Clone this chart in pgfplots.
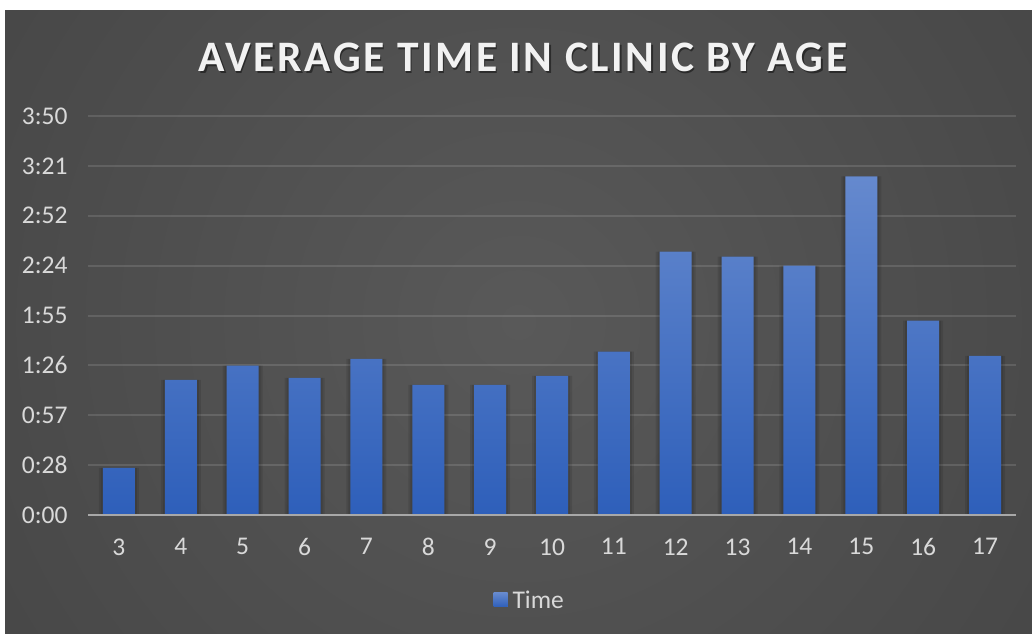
\documentclass[border=0pt]{standalone}
\usepackage{pgfplots}
\pgfplotsset{compat=1.18}
\usepackage{fontspec}
\setmainfont{Carlito}
\definecolor{bartop}{HTML}{6589CE}
\definecolor{barbot}{HTML}{2E5FBA}
\definecolor{barmid}{HTML}{3F6EC6}
\definecolor{labelc}{HTML}{D9D9D9}
\definecolor{axisc}{HTML}{A8A8A8}
\definecolor{titlec}{HTML}{F2F2F2}
\definecolor{bgc}{HTML}{595959}
\definecolor{bge1}{HTML}{474747}
\definecolor{bge2}{HTML}{2E2E2E}
\definecolor{bge3}{HTML}{262626}
\pgfdeclareradialshading{bgshade}{\pgfpoint{0bp}{0bp}}{color(0bp)=(bgc); color(26bp)=(bge1); color(43bp)=(bge2); color(50bp)=(bge3)}
\pgfplotstableread{
age time
3 27.2
4 78.1
5 86.2
6 79.2
7 90.2
8 75.2
9 75.2
10 80.4
11 94.3
12 152.1
13 149.2
14 144.0
15 195.5
16 112.2
17 91.9
}\datatable
\begin{document}
\begin{tikzpicture}
\fill[white] (0pt,0pt) rectangle (1032pt,633pt);
\begin{scope}
\clip (5pt,0pt) rectangle (1032pt,622pt);
\shade[shading=bgshade] (-81.5pt,-289pt) rectangle (1118.5pt,911pt);
\end{scope}
\begin{axis}[at={(88pt,118pt)}, anchor=south west, scale only axis,
  width=928pt, height=399pt,
  xmin=2.5, xmax=17.5, ymin=0, ymax=230.4,
  ybar, bar width=32pt,
  xtick={3,4,5,6,7,8,9,10,11,12,13,14,15,16,17},
  xticklabels={3,4,5,6,7,8,9,10,11,12,13,14,15,16,17},
  ytick={0,28.8,57.6,86.4,115.2,144,172.8,201.6,230.4},
  yticklabels={0:00,0:28,0:57,1:26,1:55,2:24,2:52,3:21,3:50},
  ymajorgrids, grid style={white, opacity=0.12, line width=2pt},
  axis line style={draw=none}, major tick length=0pt,
  tick label style={font=\fontsize{25.5}{30}\selectfont, text=labelc},
  yticklabel style={xshift=-17pt},
  xticklabel style={yshift=-20pt},
  legend style={at={(0.476,-0.213)}, anchor=center, draw=none, fill=none,
    font=\fontsize{25.5}{30}\selectfont, text=labelc},
  legend image code/.code={\fill[barmid] (0pt,-7pt) rectangle (14pt,7pt);},
  clip=false]
\addplot[draw=none, fill=black, opacity=0.10, bar width=40pt, bar shift=0pt, forget plot] table[x=age,y=time] {\datatable};
\addplot[draw=none, fill=black, opacity=0.10, bar width=36pt, bar shift=0pt, forget plot] table[x=age,y=time] {\datatable};
\addplot[draw=none, top color=bartop, bottom color=barbot, bar shift=0pt] table[x=age,y=time] {\datatable};
\addlegendentry{\hspace{3pt}Time}
\draw[axisc, line width=2.5pt] (axis cs:2.5,0) -- (axis cs:17.5,0);
\end{axis}
\node[anchor=base, text=black, opacity=0.45, font=\fontsize{43.5}{50}\selectfont\bfseries\addfontfeatures{LetterSpace=6}] at (524.5pt,559.5pt) {AVERAGE TIME IN CLINIC BY AGE};
\node[anchor=base, text=titlec, font=\fontsize{43.5}{50}\selectfont\bfseries\addfontfeatures{LetterSpace=6}] at (523pt,561pt) {AVERAGE TIME IN CLINIC BY AGE};
\pgfresetboundingbox
\useasboundingbox (0pt,0pt) rectangle (1032pt,633pt);
\end{tikzpicture}
\end{document}
